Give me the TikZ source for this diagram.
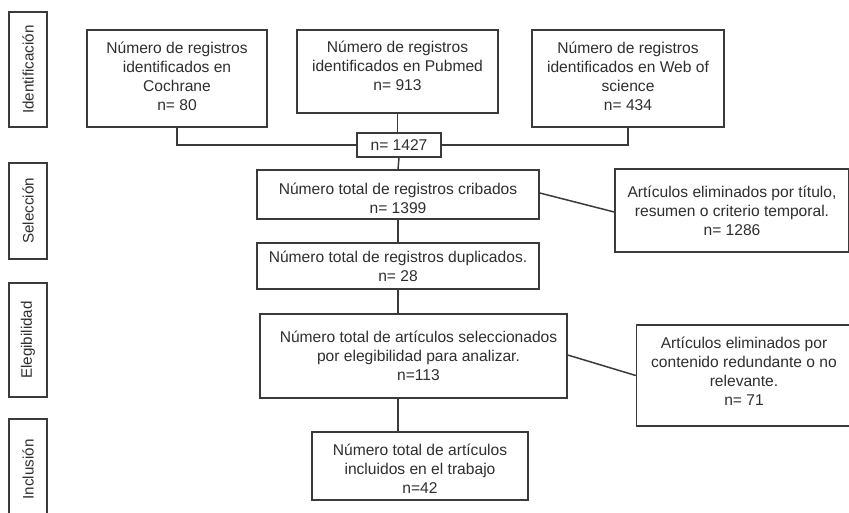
\documentclass[tikz,border=0pt]{standalone}
\usepackage{fontspec}
\setmainfont{Liberation Sans}
\definecolor{ln}{HTML}{3A3A3A}
\definecolor{tx}{HTML}{2E2E2E}
\begin{document}
\begin{tikzpicture}[x=1pt,y=-1pt,
  box/.style={draw=ln, line width=1.5pt, inner sep=0pt},
  lbl/.style={text=tx, align=center, inner sep=0pt,
    font=\fontsize{15.6}{19}\selectfont},
  side/.style={draw=ln, line width=1.5pt, text=tx, inner sep=0pt, rotate=90,
    font=\fontsize{15.2}{18}\selectfont},
  conn/.style={draw=ln, line width=1.5pt}]
\useasboundingbox (0,0) rectangle (849,512);
% side labels (rotated: width = vertical extent)
\node[side, minimum width=115pt, minimum height=38pt] (sid) at (28,69.5) {Identificación};
\node[side, minimum width=96pt, minimum height=38pt] (ssel) at (28,211) {Selección};
\node[side, minimum width=114pt, minimum height=38pt] (seleg) at (28,340) {Elegibilidad};
\node[side, minimum width=101pt, minimum height=38pt] (sinc) at (28,469.5) {Inclusión};
% identification
\node[box, minimum width=180pt, minimum height=97pt] (coch) at (177,78.5) {};
\node[lbl] (cocht) at ([yshift=2.5pt]coch.center)
  {Número de registros\\identificados en\\Cochrane\\n= 80};
\node[box, minimum width=201pt, minimum height=83pt] (pub) at (397.5,71.5) {};
\node[lbl] (pubt) at ([yshift=5.5pt]pub.center)
  {Número de registros\\identificados en Pubmed\\n= 913};
\node[box, minimum width=192pt, minimum height=97pt] (wos) at (628,78.5) {};
\node[lbl] (wost) at ([yshift=2.5pt]wos.center)
  {Número de registros\\identificados en Web of\\science\\n= 434};
\node[box, minimum width=84pt, minimum height=24pt] (tot) at (399,145) {};
\node[lbl] (tott) at (tot.center) {n= 1427};
% selection
\node[box, minimum width=282pt, minimum height=49pt] (crib) at (398,194.5) {};
\node[lbl] (cribt) at ([yshift=-3.5pt]crib.center)
  {Número total de registros cribados\\n= 1399};
\node[box, minimum width=282pt, minimum height=46pt] (dup) at (398,266) {};
\node[lbl] (dupt) at (dup.center)
  {Número total de registros duplicados.\\n= 28};
\node[box, minimum width=234pt, minimum height=83pt] (exc1) at (732,210.5) {};
\node[lbl] (exc1t) at (exc1.center)
  {Artículos eliminados por título,\\resumen o criterio temporal.\\n= 1286};
% eligibility
\node[box, minimum width=307pt, minimum height=84pt] (eleg) at (413.5,356) {};
\node[lbl] (elegt) at ([xshift=5pt]eleg.center)
  {Número total de artículos seleccionados\\por elegibilidad para analizar.\\n=113};
\node[box, minimum width=215pt, minimum height=101pt] (exc2) at (744,375.5) {};
\node[lbl] (exc2t) at ([yshift=4pt]exc2.center)
  {Artículos eliminados por\\contenido redundante o no\\relevante.\\n= 71};
% inclusion
\node[box, minimum width=216pt, minimum height=68pt] (inc) at (420,466) {};
\node[lbl] (inct) at ([yshift=-3pt]inc.center)
  {Número total de artículos\\incluidos en el trabajo\\n=42};
% connectors
\draw[conn] (coch.south) |- (tot.west);
\draw[conn] (tot.east) -| (wos.south);
\draw[conn] (pub.south) -- (pub.south |- tot.north);
\draw[conn] (tot.south) -- (crib.north);
\draw[conn] (crib.south) -- (dup.north);
\draw[conn] (dup.south) -- (dup.south |- eleg.north);
\draw[conn] (dup.south |- eleg.south) -- (dup.south |- inc.north);
\draw[conn] ([yshift=1.5pt]crib.east) -- ([yshift=-1.5pt]exc1.west);
\draw[conn] ([yshift=1pt]eleg.east) -- (exc2.west);
\end{tikzpicture}
\end{document}
